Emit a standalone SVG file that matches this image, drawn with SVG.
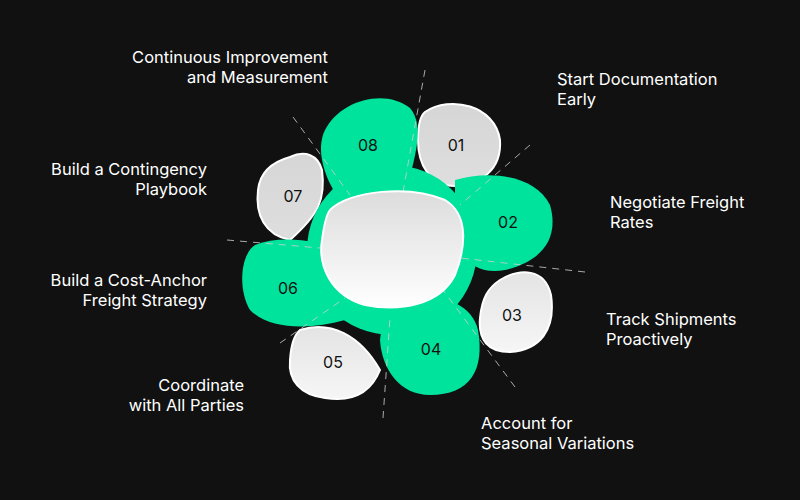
<svg xmlns="http://www.w3.org/2000/svg" width="800" height="500" viewBox="0 0 800 500">
<defs>
<linearGradient id="g1" x1="0" y1="0" x2="0" y2="1"><stop offset="0" stop-color="#d6d6d6"/><stop offset="1" stop-color="#dedede"/></linearGradient>
<linearGradient id="g2" x1="0" y1="0" x2="0" y2="1"><stop offset="0" stop-color="#e4e4e4"/><stop offset="1" stop-color="#f6f6f6"/></linearGradient>
<linearGradient id="gc" x1="0" y1="0" x2="0" y2="1"><stop offset="0" stop-color="#dcdcdc"/><stop offset="1" stop-color="#ffffff"/></linearGradient>
<style>
.lbl{font-family:Inter,"Liberation Sans",sans-serif;font-size:16.5px;fill:#ffffff}
.num{font-family:Inter,"Liberation Sans",sans-serif;font-size:16px;fill:#111111;text-anchor:middle}
.gr{fill:#00e39c}
.gy{stroke:#ffffff;stroke-width:2}
.dash{stroke:#cfcfcf;stroke-width:1;stroke-dasharray:7 6;fill:none;opacity:.8}
</style>
</defs>
<rect width="800" height="500" fill="#111111"/>
<g id="n01"><path class="gy" fill="url(#g1)" d="M425 112 C450 95 495 105 500 140 C502 170 480 185 455 186 C430 186 418 165 418 140 C418 125 420 116 425 112Z"/><text class="num" x="456" y="151">01</text></g>
<g id="n07"><path class="gy" fill="url(#g1)" d="M290 157 C305 150 318 155 322 170 C326 200 318 215 290 240 C265 235 255 215 258 190 C260 172 272 162 290 157Z"/><text class="num" x="293" y="202">07</text></g>
<g id="n03"><path class="gy" fill="url(#g2)" d="M500 280 C520 268 545 268 551 295 C556 330 540 350 510 352 C488 352 478 340 480 318 C482 298 488 288 500 280Z"/><text class="num" x="512" y="321">03</text></g>
<g id="n05"><path class="gy" fill="url(#g2)" d="M300 330 C330 320 360 335 380 370 C370 395 350 402 325 398 C300 395 288 380 290 360 C291 345 294 335 300 330Z"/><text class="num" x="333" y="368">05</text></g>
<g id="green">
<circle class="gr" cx="392" cy="250" r="85"/>
<path class="gr" d="M325 130 C340 100 385 88 410 108 C425 125 415 160 405 192 L340 200 C325 180 315 150 325 130Z"/>
<path class="gr" d="M455 180 C490 170 535 175 550 205 C560 240 540 262 505 270 C480 275 462 262 455 240Z"/>
<path class="gr" d="M385 300 C420 290 470 295 478 330 C485 370 470 395 430 395 C400 395 382 370 380 340Z"/>
<path class="gr" d="M255 245 C280 235 315 240 345 250 L345 320 C310 330 270 330 250 310 C238 290 240 255 255 245Z"/>
</g>
<g id="connectors">
<path class="dash" d="M425 70 L403 192"/>
<path class="dash" d="M530 145 L460 205"/>
<path class="dash" d="M585 272 L460 258"/>
<path class="dash" d="M515 387 L443 290"/>
<path class="dash" d="M383 418 L390 318"/>
<path class="dash" d="M280 343 L345 298"/>
<path class="dash" d="M227 240 L320 248"/>
<path class="dash" d="M293 117 L350 195"/>
</g>
<g id="center"><path fill="url(#gc)" stroke="#ffffff" stroke-width="2" d="M330 210 C350 190 410 185 445 200 C470 215 465 250 455 275 C440 305 400 312 365 305 C330 295 318 265 322 240 C324 225 326 215 330 210Z"/></g>
<g id="n08"><text class="num" x="368" y="151">08</text></g>
<g id="n02"><text class="num" x="508" y="228">02</text></g>
<g id="n04"><text class="num" x="431" y="355">04</text></g>
<g id="n06"><text class="num" x="288" y="294">06</text></g>
<g id="labels">
<text class="lbl" text-anchor="end" x="328" y="63">Continuous Improvement</text>
<text class="lbl" text-anchor="end" x="328" y="83">and Measurement</text>
<text class="lbl" x="557" y="85">Start Documentation</text>
<text class="lbl" x="557" y="105">Early</text>
<text class="lbl" text-anchor="end" x="207" y="175">Build a Contingency</text>
<text class="lbl" text-anchor="end" x="207" y="195">Playbook</text>
<text class="lbl" x="610" y="208">Negotiate Freight</text>
<text class="lbl" x="610" y="228">Rates</text>
<text class="lbl" text-anchor="end" x="207" y="286">Build a Cost-Anchor</text>
<text class="lbl" text-anchor="end" x="207" y="306">Freight Strategy</text>
<text class="lbl" x="606" y="325">Track Shipments</text>
<text class="lbl" x="606" y="345">Proactively</text>
<text class="lbl" text-anchor="end" x="244" y="391">Coordinate</text>
<text class="lbl" text-anchor="end" x="244" y="411">with All Parties</text>
<text class="lbl" x="481" y="429">Account for</text>
<text class="lbl" x="481" y="449">Seasonal Variations</text>
</g>
</svg>
